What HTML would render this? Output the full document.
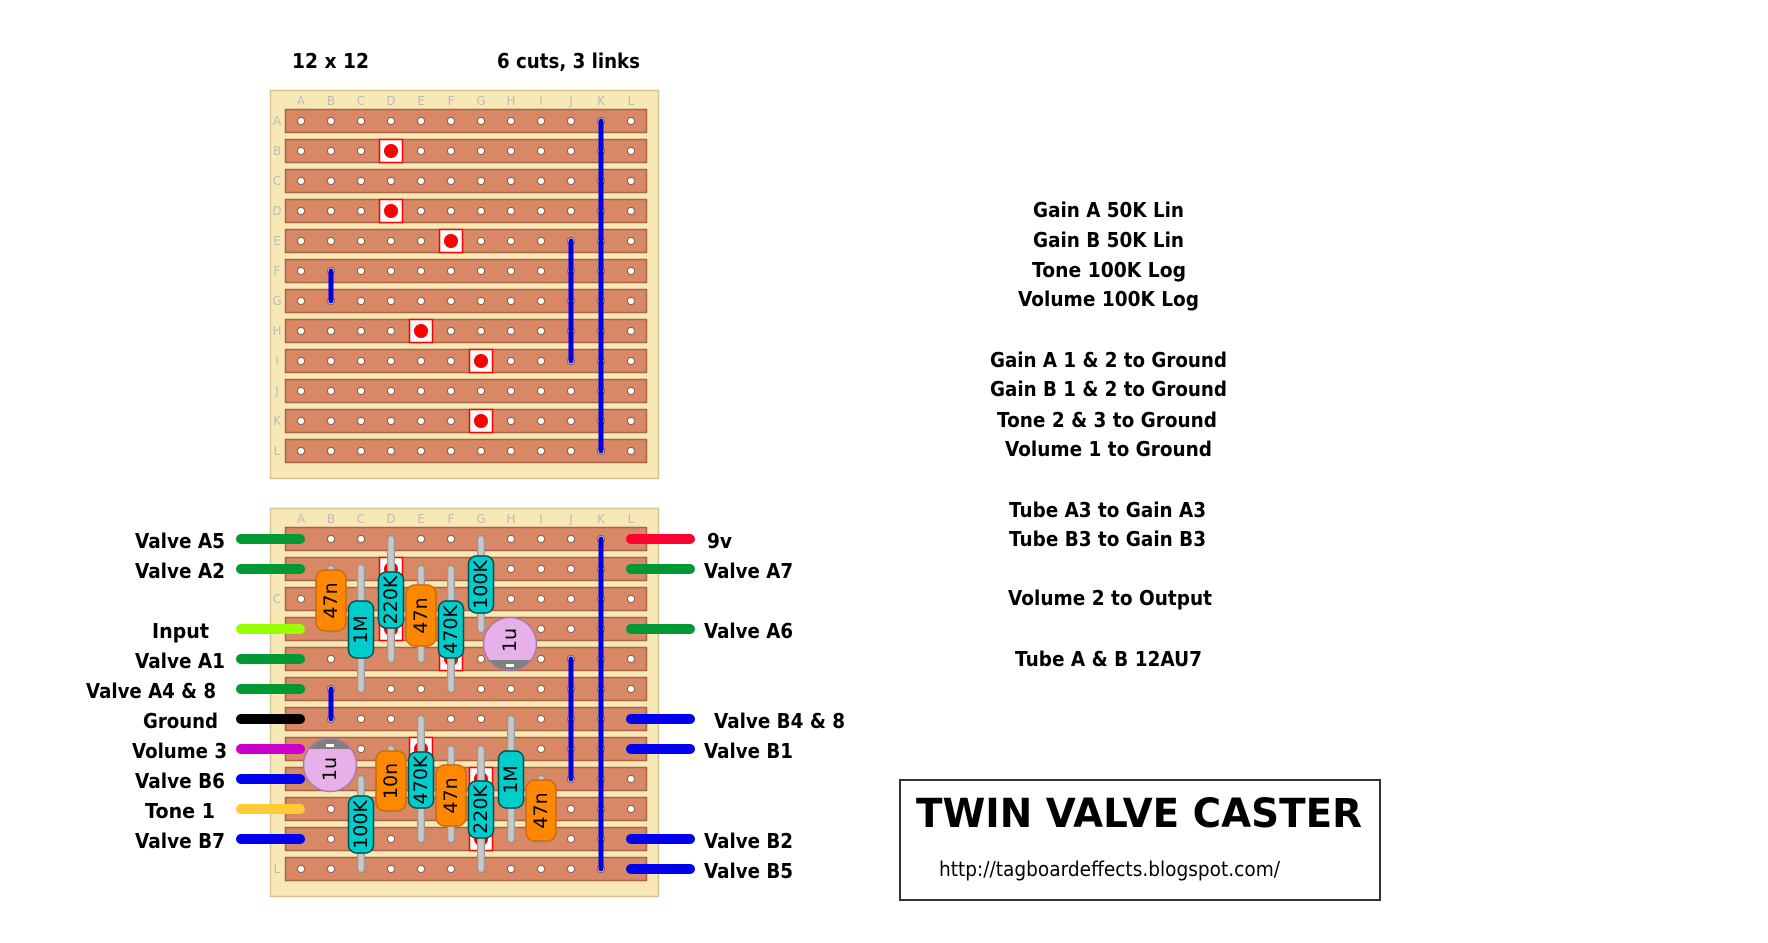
<!DOCTYPE html>
<html><head><meta charset="utf-8"><style>
html,body{margin:0;padding:0;background:#fff;}
svg{display:block;}
.t{font-family:"DejaVu Sans","Liberation Sans",sans-serif;font-weight:bold;font-size:20px;fill:#000;}
.l{font-family:"DejaVu Sans","Liberation Sans",sans-serif;font-size:12px;fill:#bbb;}
.c{font-family:"DejaVu Sans","Liberation Sans",sans-serif;font-size:19px;fill:#000;}
</style></head><body>
<svg id="s" width="1768" height="943" viewBox="0 0 1768 943" xmlns="http://www.w3.org/2000/svg">
<g id="geo"></g>
<g id="comp"></g>
<!-- header -->
<text class="t" x="292" y="68" textLength="77" lengthAdjust="spacingAndGlyphs">12 x 12</text>
<text class="t" x="497" y="68" textLength="143" lengthAdjust="spacingAndGlyphs">6 cuts, 3 links</text>
<!-- column letters top -->
<g class="l" text-anchor="middle">
<text x="301" y="105">A</text><text x="331" y="105">B</text><text x="361" y="105">C</text><text x="391" y="105">D</text><text x="421" y="105">E</text><text x="451" y="105">F</text><text x="481" y="105">G</text><text x="511" y="105">H</text><text x="541" y="105">I</text><text x="571" y="105">J</text><text x="601" y="105">K</text><text x="631" y="105">L</text>
<text x="301" y="523">A</text><text x="331" y="523">B</text><text x="361" y="523">C</text><text x="391" y="523">D</text><text x="421" y="523">E</text><text x="451" y="523">F</text><text x="481" y="523">G</text><text x="511" y="523">H</text><text x="541" y="523">I</text><text x="571" y="523">J</text><text x="601" y="523">K</text><text x="631" y="523">L</text>
<text x="277" y="125">A</text><text x="277" y="155">B</text><text x="277" y="185">C</text><text x="277" y="215">D</text><text x="277" y="245">E</text><text x="277" y="275">F</text><text x="277" y="305">G</text><text x="277" y="335">H</text><text x="277" y="365">I</text><text x="277" y="395">J</text><text x="277" y="425">K</text><text x="277" y="455">L</text>
<text x="277" y="603">C</text><text x="277" y="873">L</text>
</g>
<!-- left labels -->
<g class="t">
<text x="135" y="548" textLength="90" lengthAdjust="spacingAndGlyphs">Valve A5</text>
<text x="135" y="578" textLength="90" lengthAdjust="spacingAndGlyphs">Valve A2</text>
<text x="152" y="638" textLength="57" lengthAdjust="spacingAndGlyphs">Input</text>
<text x="135" y="668" textLength="90" lengthAdjust="spacingAndGlyphs">Valve A1</text>
<text x="86" y="698" textLength="130" lengthAdjust="spacingAndGlyphs">Valve A4 &amp; 8</text>
<text x="143" y="728" textLength="75" lengthAdjust="spacingAndGlyphs">Ground</text>
<text x="132" y="758" textLength="95" lengthAdjust="spacingAndGlyphs">Volume 3</text>
<text x="135" y="788" textLength="90" lengthAdjust="spacingAndGlyphs">Valve B6</text>
<text x="145" y="818" textLength="70" lengthAdjust="spacingAndGlyphs">Tone 1</text>
<text x="135" y="848" textLength="90" lengthAdjust="spacingAndGlyphs">Valve B7</text>
<!-- right labels -->
<text x="707" y="548" textLength="25" lengthAdjust="spacingAndGlyphs">9v</text>
<text x="704" y="578" textLength="89" lengthAdjust="spacingAndGlyphs">Valve A7</text>
<text x="704" y="638" textLength="89" lengthAdjust="spacingAndGlyphs">Valve A6</text>
<text x="714" y="728" textLength="131" lengthAdjust="spacingAndGlyphs">Valve B4 &amp; 8</text>
<text x="704" y="758" textLength="89" lengthAdjust="spacingAndGlyphs">Valve B1</text>
<text x="704" y="848" textLength="89" lengthAdjust="spacingAndGlyphs">Valve B2</text>
<text x="704" y="878" textLength="89" lengthAdjust="spacingAndGlyphs">Valve B5</text>
<!-- notes -->
<text x="1033" y="217" textLength="151" lengthAdjust="spacingAndGlyphs">Gain A 50K Lin</text>
<text x="1033" y="247" textLength="151" lengthAdjust="spacingAndGlyphs">Gain B 50K Lin</text>
<text x="1032" y="277" textLength="154" lengthAdjust="spacingAndGlyphs">Tone 100K Log</text>
<text x="1018" y="306" textLength="181" lengthAdjust="spacingAndGlyphs">Volume 100K Log</text>
<text x="990" y="367" textLength="237" lengthAdjust="spacingAndGlyphs">Gain A 1 &amp; 2 to Ground</text>
<text x="990" y="396" textLength="237" lengthAdjust="spacingAndGlyphs">Gain B 1 &amp; 2 to Ground</text>
<text x="997" y="427" textLength="220" lengthAdjust="spacingAndGlyphs">Tone 2 &amp; 3 to Ground</text>
<text x="1005" y="456" textLength="207" lengthAdjust="spacingAndGlyphs">Volume 1 to Ground</text>
<text x="1009" y="517" textLength="197" lengthAdjust="spacingAndGlyphs">Tube A3 to Gain A3</text>
<text x="1009" y="546" textLength="197" lengthAdjust="spacingAndGlyphs">Tube B3 to Gain B3</text>
<text x="1008" y="605" textLength="204" lengthAdjust="spacingAndGlyphs">Volume 2 to Output</text>
<text x="1015" y="666" textLength="187" lengthAdjust="spacingAndGlyphs">Tube A &amp; B 12AU7</text>
</g>
<!-- title box -->
<rect x="900" y="780" width="480" height="120" fill="#fff" stroke="#333" stroke-width="2"/>
<text class="t" x="916" y="827" style="font-size:40px" textLength="446" lengthAdjust="spacingAndGlyphs">TWIN VALVE CASTER</text>
<text x="939" y="876" style="font-family:'DejaVu Sans','Liberation Sans',sans-serif;font-size:20px" textLength="341" lengthAdjust="spacingAndGlyphs">http://tagboardeffects.blogspot.com/</text>

<g id="complabels"></g>
</svg>
<script>
var NS="http://www.w3.org/2000/svg";
function el(p,n,a){var e=document.createElementNS(NS,n);for(var k in a)e.setAttribute(k,a[k]);p.appendChild(e);return e;}
var g=document.getElementById('geo'),cg=document.getElementById('comp');
var X=function(c){return 301+30*c;};
[90,508].forEach(function(top,bi){
  el(g,'rect',{x:270.5,y:top+0.5,width:388,height:388,fill:'#f8e8b6',stroke:'#d6c593','stroke-width':1.5});
  var r0=top+31;
  for(var r=0;r<12;r++){
    var y=r0+30*r;
    el(g,'rect',{x:285.5,y:y-11.5,width:361,height:23,fill:'#d88864',stroke:'#a86446','stroke-width':1.5});
    for(var c=0;c<12;c++) el(g,'circle',{cx:X(c),cy:y,r:3.6,fill:'#fff',stroke:'#8a5a44','stroke-width':1});
  }
  // cuts: [col,row]
  [[3,1],[3,3],[5,4],[4,7],[6,8],[6,10]].forEach(function(q){
    var x=X(q[0]),y=r0+30*q[1];
    el(g,'rect',{x:x-11.5,y:y-11.5,width:23,height:23,fill:'#fff',stroke:'#f00','stroke-width':1.5});
    el(g,'circle',{cx:x,cy:y,r:7,fill:'#f00'});
  });
  // links
  [[10,0,11],[9,4,8],[1,5,6]].forEach(function(q){
    el(g,'line',{x1:X(q[0]),y1:r0+30*q[1],x2:X(q[0]),y2:r0+30*q[2],stroke:'#0000e0','stroke-width':5,'stroke-linecap':'round'});
  });
});
// wires
var R=function(r){return 539+30*r;};
[[0,'#009933'],[1,'#009933'],[3,'#99ff00'],[4,'#009933'],[5,'#009933'],[6,'#000'],[7,'#cc00cc'],[8,'#0000ee'],[9,'#ffcc33'],[10,'#0000ee']].forEach(function(q){
  el(g,'line',{x1:241,y1:R(q[0]),x2:300,y2:R(q[0]),stroke:q[1],'stroke-width':10,'stroke-linecap':'round'});
});
[[0,'#ff0033'],[1,'#009933'],[3,'#009933'],[6,'#0000ee'],[7,'#0000ee'],[10,'#0000ee'],[11,'#0000ee']].forEach(function(q){
  el(g,'line',{x1:631,y1:R(q[0]),x2:690,y2:R(q[0]),stroke:q[1],'stroke-width':10,'stroke-linecap':'round'});
});
function lbl(x,y,t){var e=el(cg,'text',{x:0,y:0,'class':'c','text-anchor':'middle','dominant-baseline':'central',transform:'translate('+x+','+y+') rotate(-90)'});e.textContent=t;}
function comp(type,x,l1,l2,b1,b2,t){
  el(cg,'line',{x1:x,y1:l1,x2:x,y2:l2,stroke:'#999','stroke-width':8,'stroke-linecap':'round'});
  el(cg,'line',{x1:x,y1:l1,x2:x,y2:l2,stroke:'#c8c8c8','stroke-width':5.5,'stroke-linecap':'round'});
  if(type=='r') el(cg,'rect',{x:x-12.5,y:b1,width:25,height:b2-b1,rx:8,fill:'#00cccc',stroke:'#004d4d','stroke-width':1.5});
  else el(cg,'rect',{x:x-15,y:b1,width:30,height:b2-b1,rx:9,fill:'#ff8800',stroke:'#c86a10','stroke-width':1.5});
  lbl(x,(b1+b2)/2,t);
}
var cid=0;
function ecap(x,y,bottom){
  cid++;
  var cp=el(cg,'clipPath',{id:'cp'+cid});el(cp,'circle',{cx:x,cy:y,r:26.5});
  el(cg,'circle',{cx:x,cy:y,r:26.5,fill:'#e8b0e8'});
  var gy=bottom?y+16:y-27;
  el(cg,'rect',{x:x-30,y:gy,width:60,height:11,fill:'#808080','clip-path':'url(#cp'+cid+')'});
  el(cg,'rect',{x:x-4,y:bottom?y+20:y-21,width:8,height:3,fill:'#fff'});
  el(cg,'circle',{cx:x,cy:y,r:26.5,fill:'none',stroke:'#a87aa8','stroke-width':1.5});
  lbl(x,bottom?y-4:y+4,'1u');
}
comp('c',331,569,629,570,631,'47n');
comp('r',361,568,689,601,658,'1M');
comp('r',391,539,659,572,628,'220K');
comp('c',421,569,659,585,646,'47n');
comp('r',451,569,689,601,658,'470K');
comp('r',481,539,629,556,613,'100K');
ecap(510,644,true);
ecap(330,765,false);
comp('r',361,779,869,796,853,'100K');
comp('c',391,749,809,751,811,'10n');
comp('r',421,719,839,752,808,'470K');
comp('c',451,749,839,765,826,'47n');
comp('r',481,749,869,781,838,'220K');
comp('r',511,719,839,751,808,'1M');
comp('c',541,779,839,780,841,'47n');
</script>
</body></html>
